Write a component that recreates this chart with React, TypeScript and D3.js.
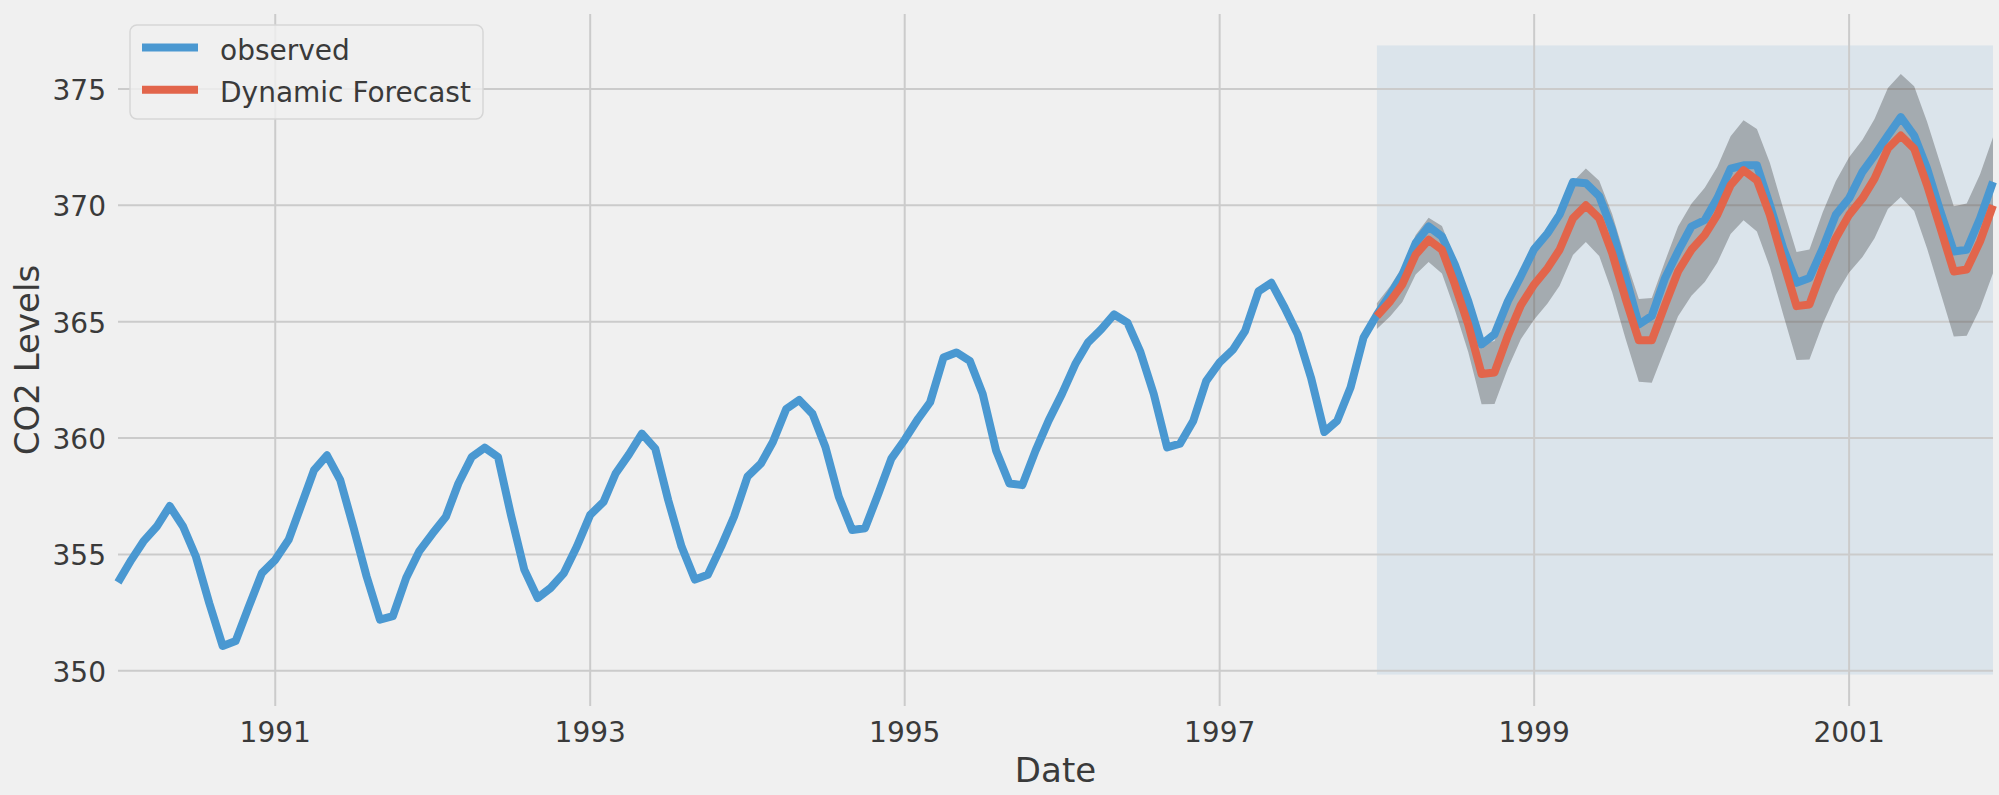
import React from 'react';
import * as d3 from 'd3';

// ---------- data ----------
const startYear = 1990;
const startMonth = 0; // January
const forecastStartIndex = 96; // 1998-01

const observed: number[] = [
  353.8, 354.77, 355.56, 356.2, 357.08, 356.2, 354.9, 352.9, 351.07, 351.28, 352.78, 354.2,
  354.77, 355.63, 357.05, 358.62, 359.26, 358.19, 356.2, 354.06, 352.2, 352.35, 354.0, 355.13,
  355.9, 356.62, 358.05, 359.19, 359.59, 359.19, 356.7, 354.35, 353.13, 353.56, 354.2, 355.34,
  356.7, 357.26, 358.48, 359.3, 360.19, 359.55, 357.34, 355.34, 353.92, 354.13, 355.34, 356.63,
  358.34, 358.9, 359.83, 361.25, 361.64, 361.04, 359.62, 357.48, 356.05, 356.13, 357.62, 359.12,
  359.93, 360.83, 361.54, 363.46, 363.68, 363.32, 361.9, 359.47, 358.05, 357.98, 359.47, 360.75,
  361.9, 363.18, 364.1, 364.67, 365.31, 364.96, 363.7, 361.9, 359.6, 359.76, 360.75, 362.46,
  363.25, 363.8, 364.6, 366.3, 366.67, 365.6, 364.46, 362.6, 360.26, 360.75, 362.18, 364.32,
  365.3, 366.17, 367.02, 368.38, 369.09, 368.66, 367.45, 365.88, 364.03, 364.46, 365.88, 366.95,
  368.12, 368.8, 369.6, 371.0, 370.95, 370.4, 368.95, 366.95, 364.88, 365.25, 366.88, 368.02,
  369.09, 369.37, 370.3, 371.58, 371.72, 371.72, 370.02, 368.16, 366.67, 366.88, 368.16, 369.59,
  370.3, 371.44, 372.15, 373.0, 373.79, 373.0, 371.58, 369.73, 368.02, 368.09, 369.44, 371.01,
];

const forecast: number[] = [
  365.24, 365.88, 366.6, 367.88, 368.52, 368.09, 366.6, 364.88, 362.75, 362.82, 364.4, 365.7,
  366.6, 367.3, 368.09, 369.44, 370.0, 369.44, 367.95, 366.0, 364.2, 364.2, 365.73, 367.16,
  368.09, 368.73, 369.59, 370.87, 371.51, 371.08, 369.59, 367.59, 365.67, 365.74, 367.31, 368.59,
  369.59, 370.3, 371.15, 372.44, 373.0, 372.44, 370.87, 369.02, 367.16, 367.24, 368.45, 370.0,
];

const lowerCI: number[] = [
  364.69, 365.23, 365.85, 367.03, 367.57, 367.07, 365.5, 363.7, 361.45, 361.47, 363.0, 364.25,
  365.1, 365.78, 366.54, 367.87, 368.42, 367.82, 366.27, 364.28, 362.42, 362.38, 363.85, 365.23,
  366.11, 366.71, 367.53, 368.77, 369.36, 368.88, 367.35, 365.31, 363.35, 363.38, 364.91, 366.15,
  367.11, 367.78, 368.59, 369.84, 370.36, 369.76, 368.15, 366.26, 364.36, 364.4, 365.57, 367.08,
];

const upperCI: number[] = [
  365.79, 366.53, 367.35, 368.73, 369.47, 369.11, 367.7, 366.06, 364.05, 364.17, 365.8, 367.15,
  368.1, 368.82, 369.64, 371.01, 371.58, 371.06, 369.63, 367.72, 365.98, 366.02, 367.61, 369.09,
  370.07, 370.75, 371.65, 372.97, 373.66, 373.28, 371.83, 369.87, 367.99, 368.1, 369.71, 371.03,
  372.07, 372.82, 373.71, 375.04, 375.64, 375.12, 373.59, 371.78, 369.96, 370.08, 371.33, 372.92,
];

const xTickYears: number[] = [1991, 1993, 1995, 1997, 1999, 2001];
const yTicks: number[] = [350, 355, 360, 365, 370, 375];
const legendLabels: string[] = ['observed', 'Dynamic Forecast'];
const xLabel = 'Date';
const yLabel = 'CO2 Levels';

// ---------- styling ----------
const W = 1999;
const H = 795;
const M = { left: 118, right: 1993, top: 14, bottom: 706 };
const BG = '#f0f0f0';
const GRID = '#cbcbcb';
const BLUE = '#4a98d1';
const RED = '#e2654b';
const SHADE = '#dbe4eb';
const TEXT = '#3a3a3a';
const FONT = "'DejaVu Sans', sans-serif";

const monthDate = (i: number) => new Date(Date.UTC(startYear, startMonth + i, 1));

export default function App() {
  const obsDates = observed.map((_, i) => monthDate(i));
  const fcDates = forecast.map((_, i) => monthDate(forecastStartIndex + i));

  const x = d3
    .scaleUtc()
    .domain([obsDates[0], obsDates[obsDates.length - 1]])
    .range([M.left, M.right]);

  // matplotlib-style autoscale: shading spans the first ylim, axes then re-pad
  const allVals = [...observed, ...forecast, ...lowerCI, ...upperCI];
  const [mn, mx] = d3.extent(allVals) as [number, number];
  const pad1 = (mx - mn) * 0.05;
  const shadeLo = mn - pad1;
  const shadeHi = mx + pad1;
  const pad2 = (shadeHi - shadeLo) * 0.05;
  const y = d3
    .scaleLinear()
    .domain([shadeLo - pad2, shadeHi + pad2])
    .range([M.bottom, M.top]);

  const line = d3
    .line<[Date, number]>()
    .x((d) => x(d[0]))
    .y((d) => y(d[1]));

  const area = d3
    .area<number>()
    .x((_, i) => x(fcDates[i]))
    .y0((_, i) => y(lowerCI[i]))
    .y1((_, i) => y(upperCI[i]));

  const obsPath = line(obsDates.map((d, i) => [d, observed[i]])) || '';
  const fcPath = line(fcDates.map((d, i) => [d, forecast[i]])) || '';
  const bandPath = area(forecast) || '';

  const shadeX0 = x(monthDate(forecastStartIndex));
  const shadeX1 = x(obsDates[obsDates.length - 1]);

  return (
    <svg
      width={W}
      height={H}
      style={{ position: 'absolute', left: 0, top: 0, background: BG }}
      fontFamily={FONT}
    >
      <rect x={0} y={0} width={W} height={H} fill={BG} />
      {/* forecast period shading */}
      <rect
        x={shadeX0}
        y={y(shadeHi)}
        width={shadeX1 - shadeX0}
        height={y(shadeLo) - y(shadeHi)}
        fill={SHADE}
      />
      {/* grid */}
      {yTicks.map((t) => (
        <line key={'gy' + t} x1={M.left} x2={M.right} y1={y(t)} y2={y(t)} stroke={GRID} strokeWidth={2} />
      ))}
      {xTickYears.map((yr) => {
        const xx = x(new Date(Date.UTC(yr, 0, 1)));
        return <line key={'gx' + yr} x1={xx} x2={xx} y1={M.top} y2={M.bottom} stroke={GRID} strokeWidth={2} />;
      })}
      {/* confidence band */}
      <path d={bandPath} fill="#000" fillOpacity={0.25} />
      {/* lines */}
      <path d={obsPath} fill="none" stroke={BLUE} strokeWidth={8} strokeLinejoin="round" />
      <path d={fcPath} fill="none" stroke={RED} strokeWidth={8} strokeLinejoin="round" />
      {/* tick labels */}
      {yTicks.map((t) => (
        <text key={'ty' + t} x={106} y={y(t) + 11} textAnchor="end" fontSize={28} fill={TEXT}>
          {t}
        </text>
      ))}
      {xTickYears.map((yr) => (
        <text
          key={'tx' + yr}
          x={x(new Date(Date.UTC(yr, 0, 1)))}
          y={742}
          textAnchor="middle"
          fontSize={28}
          fill={TEXT}
        >
          {yr}
        </text>
      ))}
      {/* axis labels */}
      <text x={(M.left + M.right) / 2} y={782} textAnchor="middle" fontSize={34} fill={TEXT}>
        {xLabel}
      </text>
      <text
        transform={`translate(39,${(M.top + M.bottom) / 2}) rotate(-90)`}
        textAnchor="middle"
        fontSize={34}
        fill={TEXT}
      >
        {yLabel}
      </text>
      {/* legend */}
      <g>
        <rect x={130} y={25} width={353} height={94} rx={7} fill={BG} fillOpacity={0.8} stroke="#d6d6d6" strokeWidth={1.5} />
        {legendLabels.map((lab, i) => (
          <g key={lab}>
            <line
              x1={142}
              x2={198}
              y1={47.5 + i * 42.3}
              y2={47.5 + i * 42.3}
              stroke={i === 0 ? BLUE : RED}
              strokeWidth={8}
            />
            <text x={220} y={60 + i * 42} fontSize={28} fill={TEXT}>
              {lab}
            </text>
          </g>
        ))}
      </g>
    </svg>
  );
}
